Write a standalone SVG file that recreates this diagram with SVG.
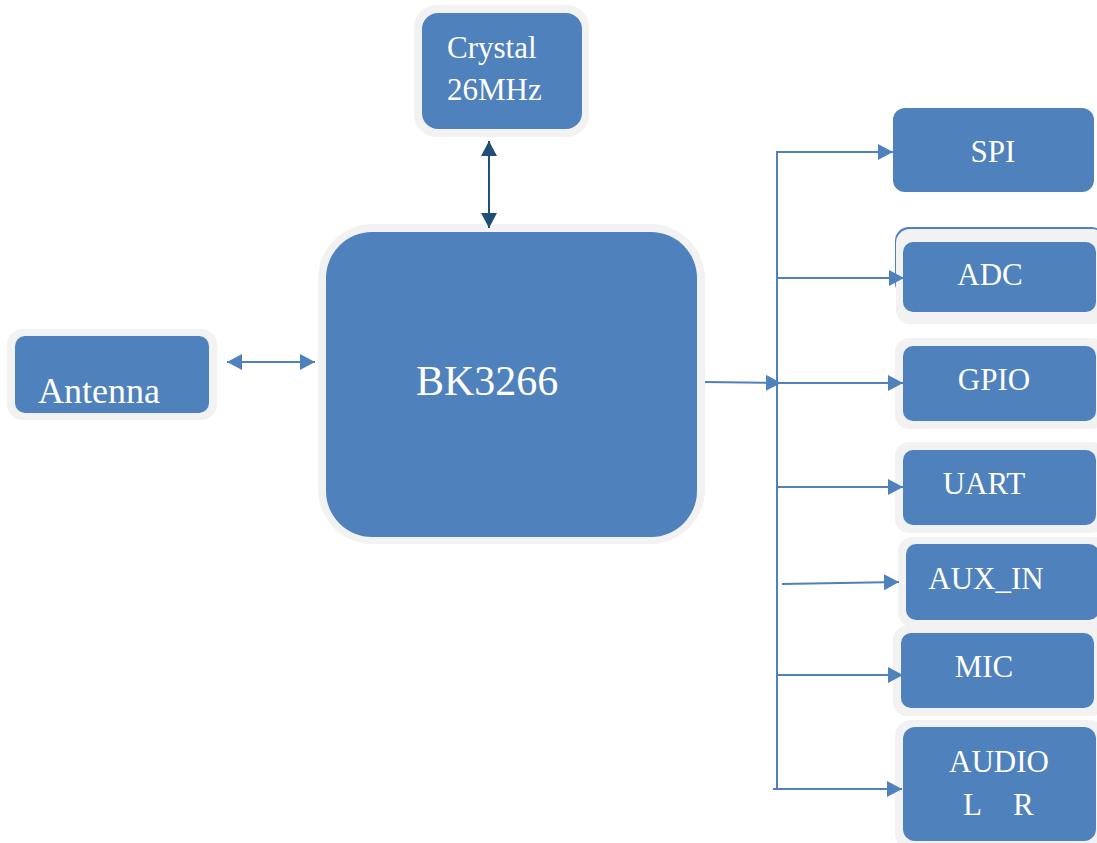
<svg xmlns="http://www.w3.org/2000/svg" width="1097" height="843" viewBox="0 0 1097 843">
<style>
.halo{fill:#F2F2F2}
.box{fill:#4F81BD}
.t{fill:#FFFFFF;font-family:'Liberation Serif','Times New Roman',serif}
.ln{stroke:#4F81BD;stroke-width:2;fill:none}
.dk{stroke:#1F4E79;stroke-width:2;fill:none}
</style>
<defs>
<marker id="ab" markerUnits="userSpaceOnUse" markerWidth="18" markerHeight="18" refX="15" refY="8" orient="auto-start-reverse"><path d="M0,0 L15,8 L0,16 z" fill="#4F81BD"/></marker>
<marker id="ad" markerUnits="userSpaceOnUse" markerWidth="18" markerHeight="18" refX="15" refY="8" orient="auto-start-reverse"><path d="M0,0 L15,8 L0,16 z" fill="#1F4E79"/></marker>
</defs>
<rect width="1097" height="843" fill="#FFFFFF"/>

<g id="crystal">
<rect class="halo" x="414" y="5" width="175" height="132" rx="22"/>
<rect class="box" x="422" y="13" width="160" height="116" rx="16"/>
<text class="t" x="447" y="58" font-size="31">Crystal</text>
<text class="t" x="447" y="100" font-size="31">26MHz</text>
</g>

<g id="antenna">
<rect class="halo" x="7" y="329" width="210" height="91" rx="16"/>
<rect class="box" x="15" y="336" width="194" height="77" rx="10"/>
<text class="t" x="38" y="403" font-size="36">Antenna</text>
</g>

<g id="bk3266">
<rect class="halo" x="318" y="224" width="387" height="320" rx="55"/>
<rect class="box" x="326" y="232" width="371" height="305" rx="46"/>
<text class="t" x="416" y="395" font-size="42">BK3266</text>
</g>

<g id="spi">
<rect class="box" x="893" y="108" width="201" height="84" rx="12"/>
<text class="t" x="993" y="162" font-size="31" text-anchor="middle">SPI</text>
</g>

<g id="adc">
<rect x="895" y="227" width="210" height="70" rx="14" fill="#4F81BD"/>
<rect class="halo" x="896" y="229" width="210" height="95" rx="14"/>
<rect class="box" x="903" y="242" width="193" height="70" rx="10"/>
<text class="t" x="990" y="285" font-size="31" text-anchor="middle">ADC</text>
</g>

<g id="gpio">
<rect class="halo" x="895" y="338" width="210" height="91" rx="14"/>
<rect class="box" x="903" y="346" width="193" height="75" rx="10"/>
<text class="t" x="994" y="390" font-size="31" text-anchor="middle">GPIO</text>
</g>

<g id="uart">
<rect class="halo" x="895" y="442" width="210" height="91" rx="14"/>
<rect class="box" x="903" y="450" width="193" height="75" rx="10"/>
<text class="t" x="984" y="494" font-size="31" text-anchor="middle">UART</text>
</g>

<g id="aux_in">
<rect class="halo" x="898" y="537" width="210" height="90" rx="14"/>
<rect class="box" x="906" y="544" width="193" height="76" rx="10"/>
<text class="t" x="986" y="589" font-size="31" text-anchor="middle">AUX_IN</text>
</g>

<g id="mic">
<rect class="halo" x="893" y="626" width="212" height="90" rx="14"/>
<rect class="box" x="901" y="633" width="193" height="75" rx="10"/>
<text class="t" x="984" y="677" font-size="31" text-anchor="middle">MIC</text>
</g>

<g id="audio">
<rect class="halo" x="895" y="720" width="210" height="130" rx="16"/>
<rect class="box" x="903" y="727" width="193" height="114" rx="12"/>
<text class="t" x="999" y="772" font-size="31" text-anchor="middle">AUDIO</text>
<text class="t" x="963" y="815" font-size="31">L</text>
<text class="t" x="1013" y="815" font-size="31">R</text>
</g>

<g id="connectors">
<line class="dk" x1="489" y1="141" x2="489" y2="228" marker-start="url(#ad)" marker-end="url(#ad)"/>
<line class="ln" x1="227" y1="362" x2="315" y2="362" marker-start="url(#ab)" marker-end="url(#ab)"/>
<line class="ln" x1="705" y1="382" x2="781" y2="383" marker-end="url(#ab)"/>
<line class="ln" x1="777" y1="152" x2="777" y2="788"/>
<line class="ln" x1="776" y1="152" x2="893" y2="152" marker-end="url(#ab)"/>
<line class="ln" x1="777" y1="278" x2="904" y2="278" marker-end="url(#ab)"/>
<line class="ln" x1="777" y1="383" x2="903" y2="383" marker-end="url(#ab)"/>
<line class="ln" x1="777" y1="487" x2="903" y2="487" marker-end="url(#ab)"/>
<line class="ln" x1="782" y1="584" x2="899" y2="582" marker-end="url(#ab)"/>
<line class="ln" x1="777" y1="675" x2="903" y2="675" marker-end="url(#ab)"/>
<line class="ln" x1="773" y1="789" x2="902" y2="789" marker-end="url(#ab)"/>
</g>
</svg>
